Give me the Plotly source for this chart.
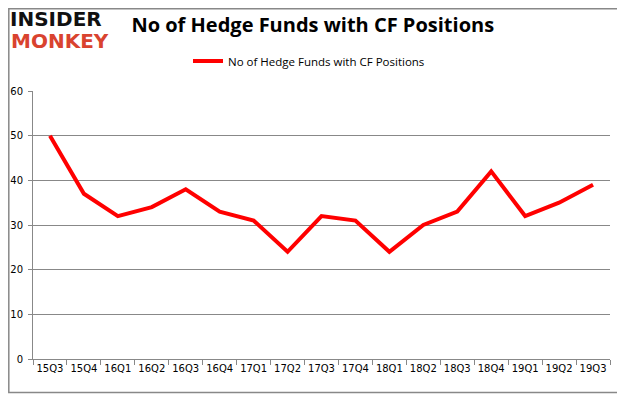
import plotly.graph_objects as go

quarters = ["15Q3", "15Q4", "16Q1", "16Q2", "16Q3", "16Q4", "17Q1", "17Q2", "17Q3",
            "17Q4", "18Q1", "18Q2", "18Q3", "18Q4", "19Q1", "19Q2", "19Q3"]
hedge_funds = [50, 37, 32, 34, 38, 33, 31, 24, 32, 31, 24, 30, 33, 42, 32, 35, 39]
series_name = "No of Hedge Funds with CF Positions"
y_ticks = [0, 10, 20, 30, 40, 50, 60]

# the page body adds an 8px offset; the figure is sized to fill the rest of the window
OFF = 8
W, H = 625 - OFF, 395 - OFF
L, T = 33 - OFF, 91 - OFF
R, B = W - (610 - OFF), H - (359 - OFF)
pw, ph = W - L - R, H - T - B

def px(x):  # screen x -> paper
    return (x - OFF - L) / pw

def py(y):  # screen y -> paper
    return (H - B - (y - OFF)) / ph

tick_font = dict(family="DejaVu Sans, Verdana, sans-serif", size=10, color="#000")

fig = go.Figure()
fig.add_trace(go.Scatter(
    x=quarters, y=hedge_funds, mode="lines", name=series_name,
    line=dict(color="#ff0000", width=4),
))

fig.update_layout(
    width=W, height=H,
    margin=dict(l=L, r=R, t=T, b=B, autoexpand=False),
    paper_bgcolor="white", plot_bgcolor="white",
    font=dict(family="Open Sans, Noto Sans, sans-serif", size=11, color="#000"),
    showlegend=True,
    legend=dict(orientation="h", x=px(309), xanchor="center", y=py(61), yanchor="middle",
                font=dict(family="Open Sans, Noto Sans, sans-serif", size=11.5, color="#000"),
                bgcolor="rgba(0,0,0,0)"),
    title=dict(text="<b>" + series_name + "</b>", x=px(318), xanchor="center",
               y=1 - (25 - OFF) / H, yanchor="middle",
               font=dict(family="Open Sans, Noto Sans, sans-serif", size=20, color="#000")),
    xaxis=dict(showgrid=False, showline=True, linecolor="#888", linewidth=1,
               ticks="outside", tickson="boundaries", ticklen=5, tickcolor="#888",
               tickangle=0, tickfont=tick_font, range=[-0.5, len(quarters) - 0.5],
               fixedrange=True),
    yaxis=dict(range=[0, 60], tickvals=y_ticks, showgrid=True, gridcolor="#888", gridwidth=1,
               showline=True, linecolor="#888", linewidth=1, ticks="outside", ticklen=4,
               tickcolor="#888", tickfont=tick_font, ticklabelstandoff=3, zeroline=False,
               fixedrange=True),
)

# outer frame
fig.add_shape(type="rect", xref="paper", yref="paper",
              x0=px(8.8), x1=px(622.5), y0=py(392.5), y1=py(8.8),
              line=dict(color="#888", width=1.5), fillcolor="rgba(0,0,0,0)", layer="below")

# logo
fig.add_annotation(text="<b>INSIDER</b>", xref="paper", yref="paper", x=px(56), y=py(19),
                   showarrow=False, xanchor="center", yanchor="middle",
                   font=dict(family="DejaVu Sans, sans-serif", size=20, color="#111"))
fig.add_annotation(text="<b>MONKEY</b>", xref="paper", yref="paper", x=px(60), y=py(41),
                   showarrow=False, xanchor="center", yanchor="middle",
                   font=dict(family="DejaVu Sans, sans-serif", size=20, color="#d9432f"))

fig.write_html("out.html")
